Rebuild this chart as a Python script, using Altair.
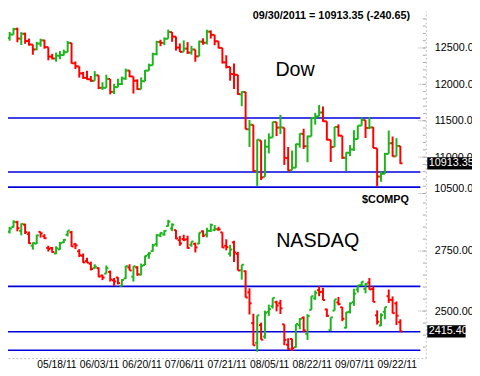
import altair as alt
import pandas as pd

# ---------------- data ----------------
tick_index = [7, 18, 29, 40, 51, 62, 73, 84, 95]
tick_labels = ["05/18/11", "06/03/11", "06/20/11", "07/06/11", "07/21/11",
               "08/05/11", "08/22/11", "09/07/11", "09/22/11"]

dow_open = [12638, 12684, 12760, 12628, 12695, 12595, 12547, 12480, 12560, 12604,
            12511, 12381, 12355, 12393, 12402, 12442, 12569, 12289, 12247, 12151,
            12090, 12069, 12049, 12124, 11952, 11952, 12074, 11897, 11962, 12004,
            12080, 12190, 12108, 12050, 11934, 12043, 12189, 12262, 12415, 12582,
            12569, 12627, 12718, 12656, 12505, 12447, 12491, 12437, 12479, 12385,
            12587, 12572, 12724, 12680, 12592, 12501, 12302, 12239, 12141, 12131,
            11862, 11895, 11383, 11444, 10810, 11228, 10729, 11143, 11269, 11481,
            11406, 11405, 10986, 10818, 10855, 11176, 11320, 11149, 11285, 11538,
            11560, 11613, 11492, 11237, 11140, 11414, 11294, 10990, 11060, 11105,
            11247, 11433, 11508, 11401, 11408, 11121, 10733, 10770, 11045, 11191,
            11012, 11153]
dow_high = [12720, 12777, 12780, 12717, 12711, 12630, 12548, 12585, 12628, 12613,
            12511, 12420, 12437, 12459, 12477, 12596, 12569, 12315, 12247, 12171,
            12188, 12115, 12182, 12124, 12029, 12133, 12074, 12007, 12077, 12107,
            12217, 12194, 12108, 12069, 12096, 12197, 12285, 12435, 12599, 12613,
            12645, 12753, 12719, 12657, 12562, 12604, 12581, 12529, 12479, 12601,
            12633, 12751, 12741, 12680, 12594, 12501, 12400, 12239, 12288, 12131,
            11904, 11895, 11510, 11444, 11244, 11228, 11243, 11327, 11485, 11481,
            11580, 11405, 11139, 11090, 11184, 11326, 11390, 11296, 11540, 11609,
            11716, 11696, 11492, 11237, 11415, 11450, 11294, 11067, 11166, 11370,
            11434, 11545, 11508, 11547, 11413, 11121, 10805, 11059, 11366, 11283,
            11260, 11153]
dow_low = [12600, 12684, 12578, 12540, 12557, 12532, 12407, 12470, 12517, 12490,
           12331, 12343, 12311, 12345, 12397, 12442, 12284, 12210, 12093, 12076,
           12064, 12035, 12049, 11935, 11924, 11952, 11862, 11867, 11962, 11990,
           12063, 12099, 11874, 11925, 11934, 12043, 12188, 12262, 12399, 12525,
           12539, 12627, 12585, 12464, 12445, 12447, 12417, 12407, 12311, 12385,
           12544, 12549, 12630, 12537, 12495, 12286, 12219, 12050, 11935, 11857,
           11700, 11383, 11139, 10809, 10604, 10686, 10729, 11051, 11269, 11290,
           11316, 10893, 10812, 10818, 10855, 11130, 11112, 10929, 11285, 11446,
           11560, 11485, 11229, 10933, 11140, 11284, 10976, 10810, 11014, 11086,
           11247, 11433, 11262, 11385, 11123, 10597, 10661, 10770, 11045, 11008,
           11012, 10907]
dow_close = [12684.68, 12760.36, 12630.03, 12695.92, 12595.75, 12548.37, 12479.58,
             12560.18, 12605.32, 12512.04, 12381.26, 12356.21, 12394.66, 12402.76,
             12441.58, 12569.79, 12290.14, 12248.55, 12151.26, 12089.96, 12070.81,
             12048.94, 12124.36, 11951.91, 11952.97, 12076.11, 11897.27, 11961.52,
             12004.36, 12080.38, 12190.01, 12109.67, 12050.00, 11934.58, 12043.56,
             12188.69, 12261.42, 12414.34, 12582.77, 12569.87, 12626.02, 12719.49,
             12657.20, 12505.76, 12446.88, 12491.61, 12437.12, 12479.73, 12385.16,
             12587.42, 12571.91, 12724.41, 12681.16, 12592.80, 12501.30, 12302.55,
             12240.11, 12143.24, 12132.49, 11866.62, 11896.44, 11383.68, 11444.61,
             10809.85, 11239.77, 10719.94, 11143.31, 11269.02, 11482.90, 11405.93,
             11410.21, 10990.58, 10817.65, 10854.65, 11176.76, 11320.71, 11149.82,
             11284.54, 11539.25, 11559.95, 11613.53, 11493.57, 11240.26, 11139.30,
             11414.86, 11295.81, 10992.13, 11061.12, 11105.85, 11246.73, 11433.18,
             11509.09, 11401.01, 11408.66, 11124.84, 10733.83, 10771.48, 11043.86,
             11190.69, 11010.90, 11154.00, 10913.35]

nas_open = [2830, 2850, 2870, 2834, 2860, 2820, 2772, 2781, 2830, 2812,
            2763, 2763, 2740, 2757, 2786, 2818, 2828, 2778, 2749, 2730,
            2708, 2697, 2680, 2679, 2648, 2656, 2663, 2628, 2640, 2605,
            2636, 2682, 2643, 2682, 2652, 2692, 2735, 2750, 2779, 2815,
            2819, 2854, 2844, 2837, 2795, 2800, 2799, 2776, 2780, 2781,
            2832, 2819, 2834, 2837, 2840, 2828, 2772, 2739, 2786, 2738,
            2670, 2666, 2578, 2450, 2368, 2442, 2394, 2497, 2520, 2537,
            2533, 2445, 2360, 2384, 2350, 2442, 2472, 2405, 2505, 2553,
            2587, 2581, 2507, 2421, 2502, 2536, 2516, 2431, 2497, 2538,
            2590, 2608, 2592, 2619, 2592, 2482, 2440, 2497, 2562, 2547,
            2532, 2454]
nas_high = [2851, 2878, 2876, 2865, 2864, 2831, 2786, 2818, 2830, 2820,
            2772, 2767, 2770, 2788, 2800, 2835, 2834, 2784, 2758, 2740,
            2722, 2706, 2695, 2682, 2652, 2690, 2669, 2638, 2641, 2633,
            2688, 2695, 2687, 2687, 2698, 2731, 2746, 2780, 2820, 2828,
            2837, 2880, 2865, 2838, 2813, 2818, 2814, 2790, 2785, 2827,
            2836, 2847, 2864, 2858, 2851, 2828, 2799, 2776, 2793, 2747,
            2693, 2669, 2595, 2489, 2482, 2452, 2502, 2527, 2555, 2543,
            2547, 2445, 2387, 2385, 2446, 2471, 2478, 2487, 2562, 2586,
            2604, 2597, 2510, 2474, 2548, 2559, 2517, 2496, 2536, 2593,
            2608, 2623, 2617, 2638, 2603, 2503, 2491, 2516, 2590, 2561,
            2540, 2466]
nas_low = [2823, 2848, 2832, 2815, 2821, 2780, 2756, 2779, 2806, 2800,
           2748, 2743, 2737, 2755, 2783, 2811, 2768, 2758, 2725, 2701,
           2701, 2669, 2676, 2641, 2629, 2656, 2623, 2605, 2611, 2603,
           2634, 2669, 2623, 2647, 2649, 2692, 2718, 2747, 2768, 2808,
           2814, 2852, 2833, 2799, 2772, 2791, 2760, 2768, 2744, 2779,
           2808, 2807, 2829, 2833, 2835, 2763, 2753, 2727, 2704, 2669,
           2631, 2556, 2486, 2357, 2331, 2381, 2385, 2480, 2511, 2499,
           2488, 2358, 2339, 2334, 2348, 2424, 2412, 2380, 2505, 2547,
           2562, 2545, 2476, 2418, 2502, 2524, 2458, 2428, 2490, 2522,
           2577, 2604, 2574, 2589, 2538, 2444, 2438, 2466, 2534, 2490,
           2442, 2415]
nas_close = [2843.25, 2871.89, 2845.06, 2863.04, 2828.47, 2782.31, 2783.21, 2815.00,
             2823.31, 2803.32, 2758.90, 2746.16, 2761.38, 2782.68, 2796.86, 2835.30,
             2769.19, 2773.31, 2732.78, 2702.56, 2701.56, 2675.38, 2684.87, 2643.73,
             2639.69, 2678.72, 2631.46, 2623.70, 2616.48, 2629.66, 2687.26, 2669.19,
             2686.75, 2652.89, 2688.28, 2729.31, 2740.49, 2773.52, 2816.03, 2825.77,
             2834.02, 2872.66, 2859.81, 2802.62, 2781.91, 2796.92, 2762.67, 2789.80,
             2765.11, 2826.52, 2814.23, 2834.43, 2858.83, 2842.80, 2839.96, 2764.79,
             2766.25, 2756.38, 2744.61, 2669.24, 2693.07, 2556.39, 2532.41, 2357.69,
             2482.52, 2381.05, 2492.68, 2507.98, 2555.20, 2523.45, 2511.48, 2380.43,
             2341.84, 2345.38, 2446.06, 2467.69, 2419.63, 2479.85, 2562.11, 2576.11,
             2579.46, 2546.04, 2480.33, 2473.83, 2548.94, 2529.14, 2467.99, 2495.09,
             2532.15, 2572.55, 2607.07, 2622.31, 2612.83, 2590.24, 2538.19, 2455.67,
             2483.23, 2516.69, 2546.83, 2491.58, 2480.76, 2415.40]

dow_levels = [11538, 10795, 10588]
nas_levels = [2603, 2414, 2337]
dow_major = [11000, 11500, 12000, 12500]
dow_bottom_label = [10500]
dow_minor = list(range(10500, 12901, 100))
nas_major = [2500, 2750]
nas_minor = list(range(2350, 2951, 50))

# ---------------- layout constants ----------------
W, H = 425, 353
FONT = "Liberation Sans"
GREEN, RED, BLUE = "#1cb51c", "#ff0000", "#0000dd"
TICK_GRAY = "#a8a8a8"

xscale = alt.Scale(domain=[-0.424, 107.58], nice=False, zero=False)
dow_y = alt.Scale(domain=[8237.2, 13006.6], nice=False, zero=False)
nas_y = alt.Scale(domain=[2304.2, 3748.8], nice=False, zero=False)
colscale = alt.Scale(domain=["up", "down"], range=[GREEN, RED])

label_js = "[" + ",".join("'%s'" % s for s in tick_labels) + "]"
idx_js = "[" + ",".join(str(v) for v in tick_index) + "]"
xaxis = alt.Axis(values=tick_index, labelExpr=f"{label_js}[indexof({idx_js}, datum.value)]",
                 title=None, grid=False, ticks=False, domainColor="#c0c0c0",
                 domainDash=[2, 2], labelAlign="left", labelPadding=2,
                 labelFont=FONT, labelFontSize=10.5, labelColor="#000000",
                 labelFlush=False, labelOverlap=False, zindex=0)


def yaxis(values, show_domain):
    return alt.Axis(orient="right", values=values, format=".2f",
                    title=None, grid=False, domain=show_domain, domainColor="#c0c0c0",
                    domainDash=[2, 2], ticks=True, tickSize=4, tickOpacity=0,
                    labelPadding=4.5, labelFont=FONT, labelFontSize=11,
                    labelColor="#000000", labelFlush=False, labelOverlap=False, zindex=0)


dow_axis = yaxis(dow_major, True)
nas_axis = yaxis(nas_major, False)


def frame(o, h, l, c):
    return pd.DataFrame({
        "i": list(range(len(c))), "open": o, "high": h, "low": l, "close": c,
        "dir": ["up" if cc >= oo else "down" for oo, cc in zip(o, c)],
    })


def panel(df, yscale, yax, levels, majors, minors, last_label, box_right, extra_labels):
    Y = lambda f: alt.Y(f, scale=yscale, axis=yax)
    base = alt.Chart(df).transform_calculate(xo="datum.i - 0.55", xc="datum.i + 0.55")
    col = alt.Color("dir:N", scale=colscale, legend=None)
    hl = base.mark_rule(strokeWidth=2).encode(
        x=alt.X("i:Q", scale=xscale, axis=xaxis), y=Y("low:Q"), y2="high:Q", color=col)
    op = base.mark_rule(strokeWidth=2).encode(
        x=alt.X("xo:Q", scale=xscale, axis=xaxis), x2="i:Q", y=Y("open:Q"), color=col)
    cl = base.mark_rule(strokeWidth=2).encode(
        x=alt.X("i:Q", scale=xscale, axis=xaxis), x2="xc:Q", y=Y("close:Q"), color=col)
    lv = alt.Chart(pd.DataFrame({"v": levels})).mark_rule(
        color=BLUE, strokeWidth=1.6).encode(y=Y("v:Q"), x=alt.value(0), x2=alt.value(419.5))
    # inward axis ticks: long dotted ones at labelled values, short ones in between
    mj = alt.Chart(pd.DataFrame({"v": majors + extra_labels})).mark_rule(
        color=TICK_GRAY, strokeWidth=1, strokeDash=[1, 1]).encode(
        y=Y("v:Q"), x=alt.value(417.5), x2=alt.value(425))
    mn = alt.Chart(pd.DataFrame({"v": minors})).mark_rule(
        color=TICK_GRAY, strokeWidth=1).encode(
        y=Y("v:Q"), x=alt.value(422), x2=alt.value(425))
    layers = [mn, mj, lv, hl, op, cl]
    if extra_labels:
        el = alt.Chart(pd.DataFrame({"v": extra_labels})).transform_calculate(
            t="format(datum.v, '.2f')").mark_text(
            align="left", baseline="middle", color="black", font=FONT, fontSize=11,
            dy=-4.5).encode(y=Y("v:Q"), x=alt.value(433.5), text="t:N")
        layers.append(el)
    last = pd.DataFrame({"v": [df["close"].iloc[-1]], "t": [last_label]})
    box = alt.Chart(last).mark_rule(color="black", strokeWidth=12.5).encode(
        y=Y("v:Q"), x=alt.value(426.5), x2=alt.value(box_right))
    txt = alt.Chart(last).mark_text(align="left", baseline="middle", color="white",
                                    font=FONT, fontSize=11).encode(
        y=Y("v:Q"), x=alt.value(428), text="t:N")
    layers += [box, txt]
    return alt.layer(*layers)


dow_df = frame(dow_open, dow_high, dow_low, dow_close)
nas_df = frame(nas_open, nas_high, nas_low, nas_close)

chg = dow_close[-1] - dow_close[-2]
header = "09/30/2011 = %.2f (%.2f)" % (dow_close[-1], chg)

top = panel(dow_df, dow_y, dow_axis, dow_levels, dow_major, dow_minor,
            "%.2f" % dow_close[-1], 472, dow_bottom_label)
bottom = panel(nas_df, nas_y, nas_axis, nas_levels, nas_major, nas_minor,
               "%.2f" % nas_close[-1], 465.5, [])

texts = pd.DataFrame({"t": [header, "Dow", "NASDAQ", "$COMPQ"]})
header_t = alt.Chart(texts.iloc[[0]]).mark_text(font=FONT, fontSize=11, fontWeight="bold",
                                                 color="#000000").encode(
    text="t:N", x=alt.value(329), y=alt.value(5.5))
dow_t = alt.Chart(texts.iloc[[1]]).mark_text(font=FONT, fontSize=20, color="#000000").encode(
    text="t:N", x=alt.value(292), y=alt.value(60))
nas_t = alt.Chart(texts.iloc[[2]]).mark_text(font=FONT, fontSize=20, color="#000000").encode(
    text="t:N", x=alt.value(315), y=alt.value(234))
comp_t = alt.Chart(texts.iloc[[3]]).mark_text(font=FONT, fontSize=11, fontWeight="bold",
                                               color="#000000").encode(
    text="t:N", x=alt.value(384), y=alt.value(192.5))

chart = alt.layer(top, bottom, header_t, dow_t, nas_t, comp_t).resolve_scale(
    y="independent"
).properties(
    width=W, height=H,
    autosize=alt.AutoSizeParams(type="none"),
    padding={"left": 0, "top": 0, "right": 47, "bottom": 15},
    background="white",
).configure_view(stroke=None)

chart.save("out.html", embed_options={"renderer": "svg", "actions": False})
